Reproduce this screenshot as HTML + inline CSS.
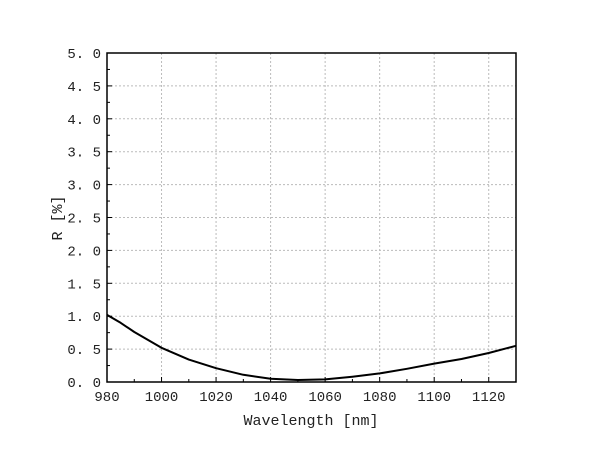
<!DOCTYPE html>
<html><head><meta charset="utf-8"><style>
html,body{margin:0;padding:0;background:#fff;}
svg text{font-family:"Liberation Mono","Noto Serif CJK SC",monospace;fill:#222;}
</style></head><body>
<svg id="chart" width="600" height="459" viewBox="0 0 600 459">
<g id="grid"></g>
<g id="axes"></g>
<path id="curve" fill="none" stroke="#000" stroke-width="2" stroke-linejoin="round"/>
<rect x="107" y="53" width="409" height="329" fill="none" stroke="#000" stroke-width="1.5"/>
<text x="311" y="425" font-size="15" text-anchor="middle">Wavelength [nm]</text>
<text x="62" y="218" font-size="15" text-anchor="middle" transform="rotate(-90 62 218)">R [%]</text>
</svg>
<script>
const wavelengths=[980,985,990,1000,1010,1020,1030,1040,1050,1060,1070,1080,1090,1100,1110,1120,1130];
const reflectance=[1.02,0.9,0.76,0.52,0.34,0.21,0.11,0.05,0.03,0.04,0.08,0.13,0.2,0.28,0.35,0.44,0.55];
const xTicks=[980,1000,1020,1040,1060,1080,1100,1120];
const yTicks=[0,0.5,1,1.5,2,2.5,3,3.5,4,4.5,5];
const X0=107,X1=516,Y0=382,Y1=53,xmin=980,xmax=1130,ymin=0,ymax=5;
const sx=v=>X0+(v-xmin)/(xmax-xmin)*(X1-X0);
const sy=v=>Y0-(v-ymin)/(ymax-ymin)*(Y0-Y1);
const NS='http://www.w3.org/2000/svg';
const grid=document.getElementById('grid'),axes=document.getElementById('axes');
function mk(tag,attrs,parent){const e=document.createElementNS(NS,tag);for(const k in attrs)e.setAttribute(k,attrs[k]);parent.appendChild(e);return e;}
xTicks.forEach(t=>{
  const x=sx(t);
  if(t>xmin){const g=mk('line',{x1:x,x2:x,y1:Y1,y2:Y0,stroke:'#bbb','stroke-dasharray':'2,2'},grid);
  
  }
  const tk=mk('line',{x1:x,x2:x,y1:Y0,y2:Y0-5,stroke:'#000'},axes);
  
  
  const mx=sx(t+10);
  const mt=mk('line',{x1:mx,x2:mx,y1:Y0,y2:Y0-3,stroke:'#000'},axes);
  
  
  const l=mk('text',{x:x,y:Y0+19,'font-size':14,'text-anchor':'middle'},axes);
  l.textContent=t;
  
  
});
yTicks.forEach(t=>{
  const y=sy(t);
  if(t>ymin&&t<ymax){const g=mk('line',{x1:X0,x2:X1,y1:y,y2:y,stroke:'#bbb','stroke-dasharray':'2,2'},grid);
  
  }
  const tk=mk('line',{x1:X0,x2:X0+5,y1:y,y2:y,stroke:'#000'},axes);
  
  
  if(t<ymax){const my=sy(t+0.25);
  const mt=mk('line',{x1:X0,x2:X0+3,y1:my,y2:my,stroke:'#000'},axes);
  
  }
  const l=mk('text',{x:X0-6,y:y+5,'font-size':14,'text-anchor':'end'},axes);
  l.textContent=t.toFixed(1).replace('.','. ');
  
  
});
let d='';
wavelengths.forEach((w,i)=>{d+=(i?'L':'M')+sx(w).toFixed(1)+','+sy(reflectance[i]).toFixed(1);});
document.getElementById('curve').setAttribute('d',d);
</script>
</body></html>
